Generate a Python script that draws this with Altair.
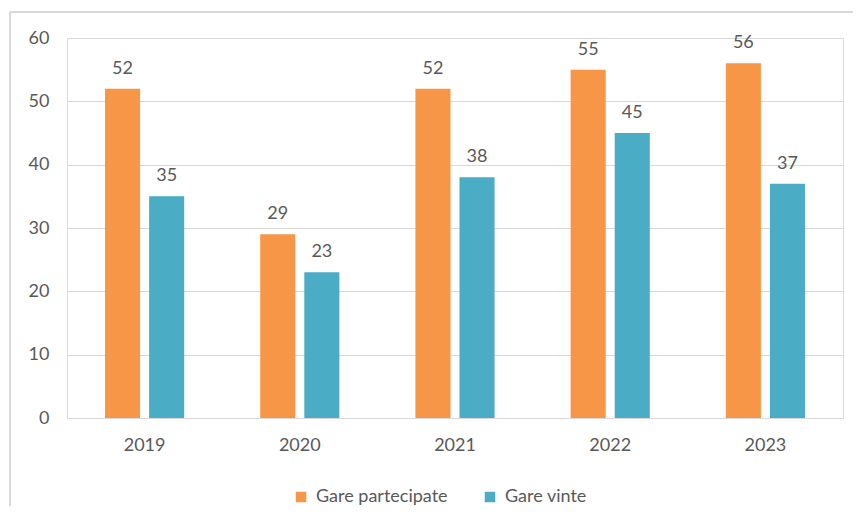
import altair as alt
import pandas as pd

years = ["2019", "2020", "2021", "2022", "2023"]
partecipate = [52, 29, 52, 55, 56]
vinte = [35, 23, 38, 45, 37]
series = ["Gare partecipate", "Gare vinte"]
colors = ["#F79646", "#4BACC6"]

rows = []
for i, y in enumerate(years):
    rows.append({"anno": y, "serie": series[0], "valore": partecipate[i]})
    rows.append({"anno": y, "serie": series[1], "valore": vinte[i]})
df = pd.DataFrame(rows)

FONT = "Lato"
GRAY = "#595959"
FS = 18

x = alt.X("anno:N", title=None, sort=years,
          scale=alt.Scale(paddingInner=0.49, paddingOuter=0.245),
          axis=alt.Axis(labelAngle=0, ticks=False, domainColor="#d9d9d9",
                        labelPadding=18, labelFontSize=FS, labelColor=GRAY,
                        labelFont=FONT, grid=False))
xo = alt.XOffset("serie:N", sort=series,
                 scale=alt.Scale(paddingInner=0.2045, paddingOuter=0))
y = alt.Y("valore:Q", title=None,
          scale=alt.Scale(domain=[0, 60]),
          axis=alt.Axis(values=[0, 10, 20, 30, 40, 50, 60], ticks=False,
                        domain=False, gridColor="#d9d9d9", labelPadding=18,
                        labelFontSize=FS, labelColor=GRAY, labelFont=FONT))
color = alt.Color("serie:N", sort=series,
                  scale=alt.Scale(domain=series, range=colors),
                  legend=alt.Legend(title=None, orient="none", direction="horizontal",
                                    legendX=225, legendY=450, symbolType="square",
                                    symbolSize=110, symbolStrokeWidth=0,
                                    labelFontSize=FS, labelColor=GRAY, labelFont=FONT,
                                    columnPadding=33, labelOffset=6))

base = alt.Chart(df)
bars = base.mark_bar().encode(x=x, xOffset=xo, y=y, color=color)
labels = base.mark_text(baseline="alphabetic", dy=-15, fontSize=FS,
                        font=FONT, color=GRAY).encode(
    x=x, xOffset=xo, y=y, text="valore:Q")

border_top = alt.Chart(pd.DataFrame({"a": [0]})).mark_rule(
    color="#d9d9d9", strokeWidth=2).encode(
    x=alt.value(-57), x2=alt.value(800), y=alt.value(-26))
border_left = alt.Chart(pd.DataFrame({"a": [0]})).mark_rule(
    color="#d9d9d9", strokeWidth=2).encode(
    x=alt.value(-57), y=alt.value(-26), y2=alt.value(480))

chart = alt.layer(border_top, border_left, bars, labels).properties(
    width=776, height=380,
    autosize=alt.AutoSizeParams(type="none"),
    padding={"left": 59, "top": 30, "right": 10, "bottom": 88},
).configure_view(strokeWidth=0, stroke="transparent").configure(background="white")

chart.save("out.html", embed_options={"renderer": "svg", "actions": False})
